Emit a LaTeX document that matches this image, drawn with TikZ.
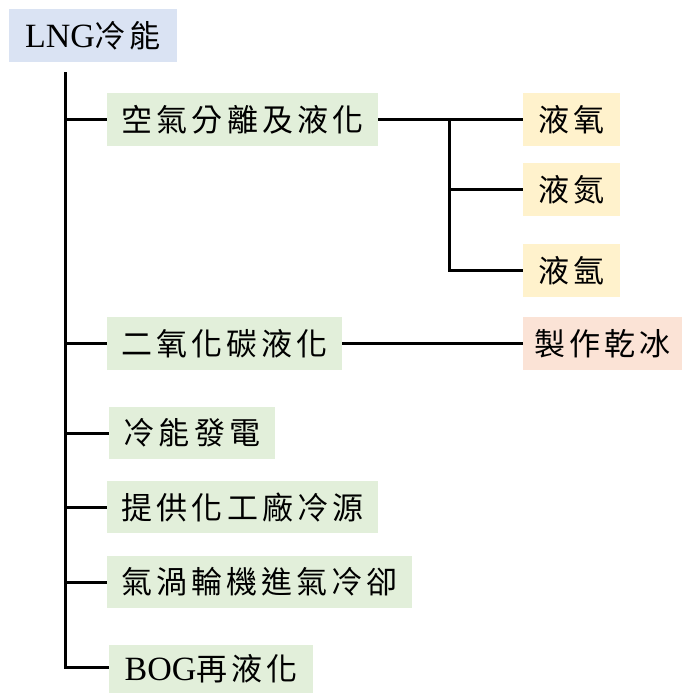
\documentclass[tikz,border=0pt]{standalone}
\usepackage{fontspec}
\setmainfont{Liberation Serif}
\newfontfamily\cjkf[LetterSpace=13]{Noto Sans CJK TC}
\newcommand\cjk[1]{{\fontsize{31}{34}\selectfont\cjkf #1}}
\definecolor{tblue}{HTML}{DAE3F3}
\definecolor{tgreen}{HTML}{E2EFDA}
\definecolor{tyellow}{HTML}{FFF2CC}
\definecolor{tpink}{HTML}{FBE3D6}
\begin{document}
\begin{tikzpicture}[x=1pt,y=-1pt,
  box/.style={inner sep=0pt, minimum height=53pt, font=\fontsize{34}{38}\selectfont, text=black},
  lvl1/.style={box, fill=tgreen},
  leaf/.style={box, fill=tyellow},
  conn/.style={line width=3pt, draw=black}]
\useasboundingbox (0,0) rectangle (682,693);
\node[box, fill=tblue, minimum width=168pt] (root) at (93,35.5) {LNG\cjk{冷能}};
\node[lvl1, minimum width=271pt] (a1) at (242.5,119.5) {\cjk{空氣分離及液化}};
\node[leaf, minimum width=97pt] (b1) at (571.5,119.5) {\cjk{液氧}};
\node[leaf, minimum width=97pt] (b2) at (571.5,189.5) {\cjk{液氮}};
\node[leaf, minimum width=97pt] (b3) at (571.5,270.5) {\cjk{液氬}};
\node[lvl1, minimum width=235pt] (a2) at (224.5,343.5) {\cjk{二氧化碳液化}};
\node[box, fill=tpink, minimum width=159pt] (b4) at (602.5,343.5) {\cjk{製作乾冰}};
\node[lvl1, minimum width=166pt, minimum height=52pt] (a3) at (192,433) {\cjk{冷能發電}};
\node[lvl1, minimum width=271pt, minimum height=52pt] (a4) at (242.5,507) {\cjk{提供化工廠冷源}};
\node[lvl1, minimum width=305pt, minimum height=52pt] (a5) at (259.5,582) {\cjk{氣渦輪機進氣冷卻}};
\node[lvl1, minimum width=204pt, minimum height=48pt] (a6) at (211,669) {BOG\cjk{再液化}};
\coordinate (trunk) at (65,72);
\draw[conn] (trunk) |- ([yshift=2pt]a6.west);
\draw[conn] (trunk |- a1.west) -- (a1.west);
\draw[conn] (trunk |- a2.west) -- (a2.west);
\draw[conn] (trunk |- a3.west) -- (a3.west);
\draw[conn] (trunk |- a4.west) -- (a4.west);
\draw[conn] (trunk |- a5.west) -- (a5.west);
\coordinate (br) at (449,119.5);
\draw[conn] (a1.east) -- (b1.west);
\draw[conn] (br) |- (b3.west);
\draw[conn] (br |- b2.west) -- (b2.west);
\draw[conn] (a2.east) -- (b4.west);
\end{tikzpicture}
\end{document}
